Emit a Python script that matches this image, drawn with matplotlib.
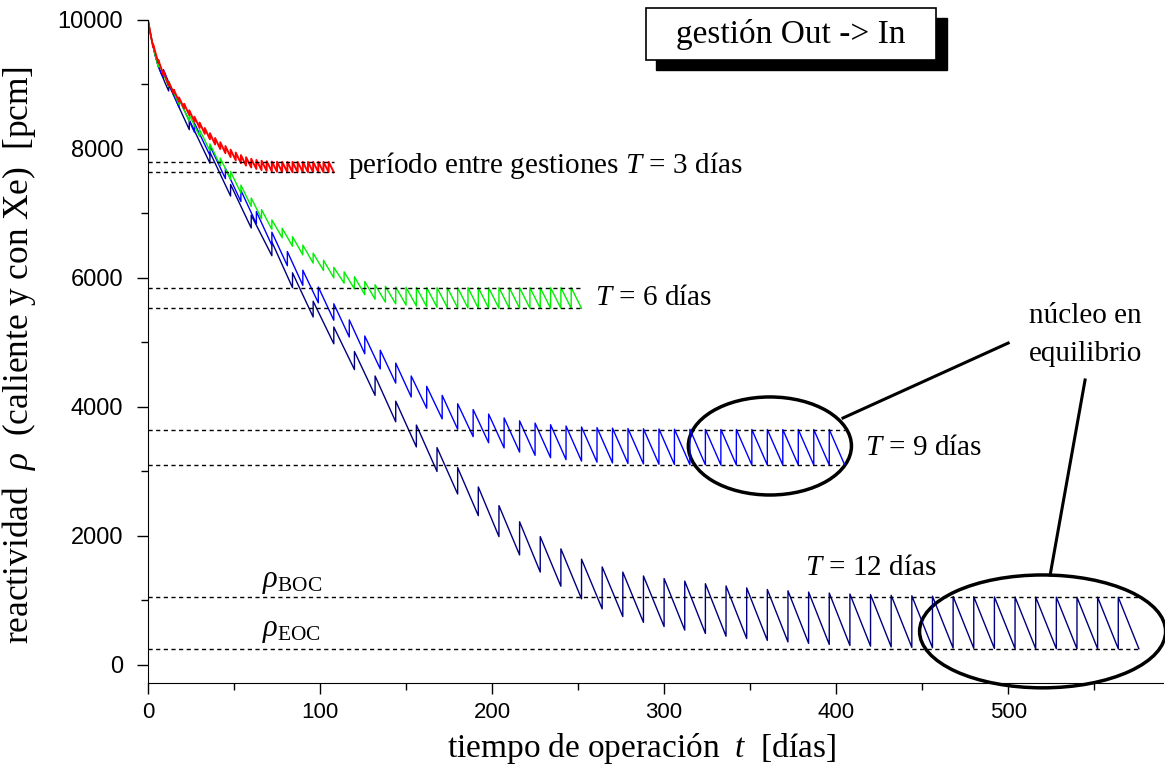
import matplotlib
matplotlib.use("Agg")
import matplotlib.pyplot as plt
from matplotlib.patches import Ellipse, Rectangle

plt.rcParams['font.family'] = ['Liberation Serif', 'DejaVu Serif']
plt.rcParams['mathtext.fontset'] = 'custom'
plt.rcParams['mathtext.rm'] = 'Liberation Serif'
plt.rcParams['mathtext.it'] = 'Liberation Serif:italic'

# shared start-up transient (xenon build-up), days and pcm
startup_days = [0, 1, 2, 4, 6, 8, 10]
startup_rho = [10000, 9850, 9710, 9470, 9280, 9150, 9020]

# T = 3 days
t3_period = 3
t3_peaks = [10000, 9620, 9380, 9200, 9040, 8920, 8800, 8700, 8600, 8500,
            8410, 8325, 8245, 8170, 8105, 8045, 7990, 7945, 7905, 7872,
            7848, 7830, 7818, 7810, 7805, 7802] + [7800] * 10
t3_troughs = [9580, 9335, 9150, 8985, 8860, 8735, 8630, 8525, 8420, 8325,
              8235, 8150, 8070, 8000, 7935, 7875, 7825, 7780, 7742, 7713,
              7690, 7673, 7660, 7652, 7646, 7642] + [7640] * 10
t3_levels = [7800, 7640]

# T = 6 days
t6_period = 6
t6_peaks = [10000, 9350, 9050, 8780, 8530, 8300, 8080, 7860, 7650, 7440,
            7240, 7060, 6900, 6770, 6640, 6510, 6385, 6275, 6165, 6095,
            6020, 5945, 5895, 5870, 5860, 5855, 5852, 5851] + [5850] * 14
t6_troughs = [9270, 8965, 8690, 8430, 8195, 7970, 7745, 7530, 7315, 7110,
              6920, 6755, 6625, 6492, 6358, 6230, 6117, 6003, 5920, 5830,
              5740, 5670, 5625, 5598, 5579, 5564, 5554, 5546, 5540, 5536,
              5533, 5530] + [5530] * 10
t6_levels = [5850, 5530]

# T = 9 days
t9_period = 9
t9_peaks = [10000, 9230, 8780, 8400, 8050, 7700, 7360, 7030, 6710, 6410,
            6120, 5860, 5600, 5350, 5100, 4880, 4680, 4480, 4320, 4180,
            4050, 3960, 3890, 3830, 3785, 3750, 3725, 3705, 3690, 3680,
            3672, 3666, 3662, 3659, 3656, 3654, 3652, 3651] + [3650] * 7
t9_troughs = [9110, 8650, 8260, 7900, 7540, 7185, 6840, 6505, 6190, 5885,
              5615, 5345, 5085, 4825, 4590, 4370, 4155, 3980, 3815, 3655,
              3540, 3445, 3365, 3300, 3250, 3213, 3183, 3160, 3144, 3132,
              3123, 3117, 3112, 3108, 3105, 3102, 3101] + [3100] * 8
t9_levels = [3650, 3100]

# T = 12 days
t12_period = 12
t12_peaks = [10000, 9000, 8450, 7950, 7450, 6975, 6560, 6080, 5640, 5240,
             4860, 4480, 4090, 3720, 3370, 3060, 2760, 2470, 2220, 1990,
             1800, 1640, 1520, 1440, 1380, 1340, 1300, 1260, 1225, 1195,
             1170, 1150, 1130, 1115, 1100, 1090, 1080, 1072, 1066, 1062,
             1058, 1055, 1053, 1052, 1051, 1050, 1050, 1050]
t12_troughs = [8900, 8300, 7780, 7270, 6775, 6345, 5850, 5395, 4980, 4580,
               4180, 3770, 3380, 3000, 2650, 2315, 1990, 1705, 1440, 1220,
               1025, 870, 750, 660, 595, 540, 488, 445, 409, 380,
               357, 335, 318, 302, 291, 280, 272, 266, 262, 258,
               255, 253, 252, 251, 250, 250, 250, 250]
t12_levels = [1050, 250]


def sawtooth(period, peaks, troughs):
    t, r = [], []
    for k in range(len(peaks)):
        if k == 0:
            for d, v in zip(startup_days, startup_rho):
                if d < period:
                    t.append(d)
                    r.append(v)
        else:
            t.append(k * period)
            r.append(peaks[k])
        t.append((k + 1) * period)
        r.append(troughs[k])
    return t, r


series = [
    (t3_period, t3_peaks, t3_troughs, t3_levels, '#ff0000', 1.4),
    (t6_period, t6_peaks, t6_troughs, t6_levels, '#00ee00', 1.0),
    (t9_period, t9_peaks, t9_troughs, t9_levels, '#0000ff', 1.0),
    (t12_period, t12_peaks, t12_troughs, t12_levels, '#000080', 1.0),
]

fig = plt.figure(figsize=(11.65, 7.69), dpi=100)
ax = fig.add_axes([148 / 1165, 1 - 683 / 769, 1015 / 1165, 663 / 769])

for period, peaks, troughs, levels, color, lw in reversed(series):
    t, r = sawtooth(period, peaks, troughs)
    ax.plot(t, r, color=color, lw=lw)

for period, peaks, troughs, levels, color, lw in series:
    end = period * len(peaks)
    for lev in levels:
        ax.plot([0, end], [lev, lev], color='black', lw=1.0,
                linestyle=(0, (3, 2.5)))

ax.set_xlim(0, 590)
ax.set_ylim(-280, 10000)
ax.set_xticks(range(0, 501, 100))
ax.set_xticks(range(50, 590, 100), minor=True)
ax.set_yticks(range(0, 10001, 2000))
ax.set_yticks(range(1000, 10000, 2000), minor=True)
for s in ['top', 'right']:
    ax.spines[s].set_visible(False)
ax.tick_params(which='major', direction='out', length=8, width=1)
ax.tick_params(which='minor', direction='out', length=5, width=1)
ax.tick_params(axis='y', pad=10)
ax.tick_params(axis='x', pad=6)
for lab in ax.get_yticklabels():
    lab.set_family(['Liberation Sans', 'DejaVu Sans'])
    lab.set_fontsize(17)
for lab in ax.get_xticklabels():
    lab.set_family(['Liberation Sans Narrow', 'Liberation Sans', 'DejaVu Sans'])
    lab.set_fontsize(16)

ax.set_xlabel(r'$\mathrm{tiempo\ de\ operación}\ \ t\ \ \mathrm{[días]}$', fontsize=24)
ax.set_ylabel(r'$\mathrm{reactividad}\ \ \rho\ \ \mathrm{(caliente\ y\ con\ Xe)}\ \ \mathrm{[pcm]}$',
              fontsize=25.5)
ax.xaxis.set_label_coords(0.486, -0.072)
ax.yaxis.set_label_coords(-0.108, 0.495)

fs = 21
ax.text(116, 7750, 'período entre gestiones $T$ = 3 días', fontsize=fs, va='center')
ax.text(260, 5690, '$T$ = 6 días', fontsize=fs, va='center')
ax.text(417, 3360, '$T$ = 9 días', fontsize=fs, va='center')
ax.text(382, 1500, '$T$ = 12 días', fontsize=fs, va='center')
ax.text(545, 5115, 'núcleo en\nequilibrio', fontsize=fs, ha='center', va='center',
        linespacing=1.6)
ax.text(66, 1209, r'$\rho_{\rm BOC}$', fontsize=22, va='baseline')
ax.text(66, 450, r'$\rho_{\rm EOC}$', fontsize=22, va='baseline')

ax.add_patch(Ellipse((361.5, 3395), 94.8, 1520, fill=False, lw=2.5,
                     color='black', clip_on=False))
ax.add_patch(Ellipse((520, 520), 143, 1750, fill=False, lw=2.5,
                     color='black', clip_on=False))
ax.plot([404, 500], [3829, 4991], color='black', lw=2.2, clip_on=False)
ax.plot([524.4, 544.7], [1395, 4418], color='black', lw=2.2, clip_on=False)

fig.patches.append(Rectangle((656 / 1165, 1 - 70 / 769), 291 / 1165, 52 / 769,
                             transform=fig.transFigure, color='black'))
fig.patches.append(Rectangle((646 / 1165, 1 - 60 / 769), 290 / 1165, 52 / 769,
                             transform=fig.transFigure, facecolor='white',
                             edgecolor='black', lw=1.2))
fig.text(791 / 1165, 1 - 35 / 769, 'gestión Out -> In', fontsize=24,
         ha='center', va='center')

fig.savefig('out.png', dpi=100)
